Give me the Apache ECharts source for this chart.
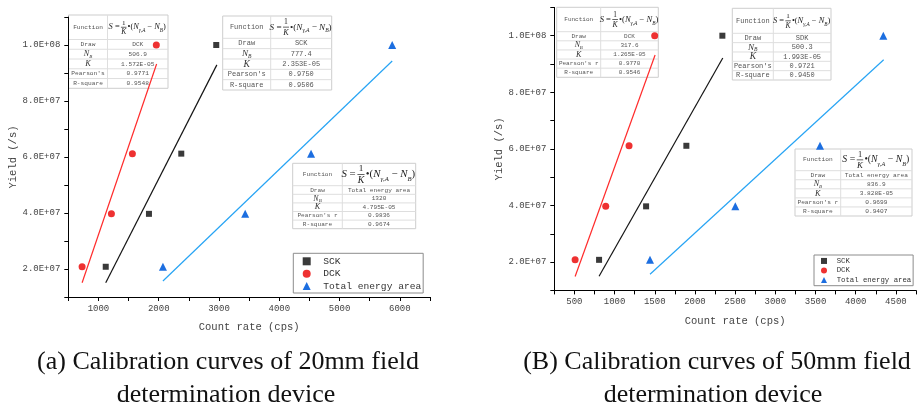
<!DOCTYPE html>
<html><head><meta charset="utf-8">
<script src="https://cdn.jsdelivr.net/npm/echarts@6/dist/echarts.min.js"></script>
<style>html,body{margin:0;padding:0;background:#fff}#c{width:919px;height:408px}</style>
</head><body><div id="c"></div>
<script>
// ---------------- DATA ----------------
const seriesNames = ['SCK', 'DCK', 'Total energy area'];
// Panel (a): 20mm field determination device
const yieldA = [2.08e7, 3.97e7, 6.12e7, 1.0e8];
const sckA = [1121, 1838, 2374, 2954];
const dckA = [729, 1215, 1563, 1960];
const totA = [2070, 3434, 4527, 5873];
const fitSckA = [[1121, 1.51e7], [2964, 9.29e7]];
const fitDckA = [[729, 1.51e7], [1965, 9.32e7]];
const fitTotA = [[2070, 1.57e7], [5873, 9.43e7]];
// Panel (b): 50mm field determination device
const yieldB = [2.08e7, 3.97e7, 6.11e7, 1.0e8];
const sckB = [807, 1392, 1893, 2341];
const dckB = [509, 890, 1180, 1499];
const totB = [1441, 2502, 3556, 4343];
const fitSckB = [[807, 1.5e7], [2346, 9.21e7]];
const fitDckB = [[509, 1.49e7], [1504, 9.32e7]];
const fitTotB = [[1441, 1.57e7], [4348, 9.15e7]];
// Tick labels
const yTickVals = [2e7, 4e7, 6e7, 8e7, 1e8];
const yTickLabels = ['2.0E+07', '4.0E+07', '6.0E+07', '8.0E+07', '1.0E+08'];
const xTickValsA = [1000, 2000, 3000, 4000, 5000, 6000];
const xTickValsB = [500, 1000, 1500, 2000, 2500, 3000, 3500, 4000, 4500];
// Fit tables: [Draw, N_B, K, Pearson's r, R-square]
const tabA_DCK = ['DCK', '506.9', '1.572E-05', '0.9771', '0.9548'];
const tabA_SCK = ['SCK', '777.4', '2.353E-05', '0.9750', '0.9506'];
const tabA_TOT = ['Total energy area', '1320', '4.795E-05', '0.9836', '0.9674'];
const tabB_DCK = ['DCK', '317.6', '1.265E-05', '0.9770', '0.9546'];
const tabB_SCK = ['SDK', '500.3', '1.993E-05', '0.9721', '0.9450'];
const tabB_TOT = ['Total energy area', '836.9', '3.828E-05', '0.9699', '0.9407'];
const pearsonA = ["Pearson's", "Pearson's", "Pearson's r"];
const pearsonB = ["Pearson's r", "Pearson's", "Pearson's r"];
const captionA = ['(a) Calibration curves of 20mm field', 'determination device'];
const captionB = ['(B) Calibration curves of 50mm field', 'determination device'];
const xName = 'Count rate (cps)';
const yName = 'Yield (/s)';

// ---------------- STYLE ----------------
const MONO = '"Liberation Mono", monospace';
const SERIF = '"Liberation Serif", serif';
const C_SCK = '#3a3a3a', C_DCK = '#ee3131', C_TOT = '#1c6ee0';
const L_SCK = '#151515', L_DCK = '#ff2b2b', L_TOT = '#27a4f4';

function pairs(xs, ys) { return xs.map((x, i) => [x, ys[i]]); }
function near(v, arr) { return arr.findIndex(a => Math.abs(a - v) < 1e-6 * Math.max(1, Math.abs(a))); }

function xAxisCfg(grid, min, max, step, ticks) {
  return {
    type: 'value', gridIndex: grid, min: min, max: max, interval: step,
    name: xName, nameLocation: 'middle', nameGap: 25,
    nameTextStyle: { fontFamily: MONO, fontSize: 10.5, color: '#444' },
    axisLine: { show: true, lineStyle: { color: '#000', width: 1 } },
    axisTick: { show: true, inside: false, length: 4, lineStyle: { color: '#000' } },
    axisLabel: { fontFamily: MONO, fontSize: 9, color: '#444', margin: 7,
      formatter: v => near(v, ticks) >= 0 ? String(v) : '' },
    splitLine: { show: false }
  };
}
function yAxisCfg(grid, gap) {
  return {
    type: 'value', gridIndex: grid, min: 1e7, max: 1.1e8, interval: 1e7,
    name: yName, nameLocation: 'middle', nameGap: gap,
    nameTextStyle: { fontFamily: MONO, fontSize: 10.5, color: '#444' },
    axisLine: { show: true, lineStyle: { color: '#000', width: 1 } },
    axisTick: { show: true, inside: false, length: 4, lineStyle: { color: '#000' } },
    axisLabel: { fontFamily: MONO, fontSize: 9, color: '#444', margin: 8,
      formatter: v => { const i = near(v, yTickVals); return i >= 0 ? yTickLabels[i] : ''; } },
    splitLine: { show: false }
  };
}
function scatter(name, data, idx, symbol, size, color) {
  return { type: 'scatter', name: name, xAxisIndex: idx, yAxisIndex: idx, data: data,
    symbol: symbol, symbolSize: size, itemStyle: { color: color, opacity: 1 }, z: 4 };
}
function fitLine(name, data, idx, color) {
  return { type: 'line', name: name, xAxisIndex: idx, yAxisIndex: idx, data: data,
    showSymbol: false, symbol: 'none', silent: true,
    lineStyle: { color: color, width: 1.2 }, z: 3 };
}

// ---------- Table (text annotation) builder ----------
function buildTable(L, vals, pearson) {
  const rowH = (L.h - L.hh) / 5;
  const ch = [];
  ch.push({ type: 'rect', shape: { x: 0, y: 0, width: L.w, height: L.h },
    style: { fill: '#ffffff', stroke: '#cdcdcd', lineWidth: 1 } });
  ch.push({ type: 'line', shape: { x1: L.sx, y1: 0, x2: L.sx, y2: L.h },
    style: { stroke: '#dedede', lineWidth: 1 } });
  for (let i = 0; i < 5; i++) {
    const yy = L.hh + i * rowH;
    ch.push({ type: 'line', shape: { x1: 0, y1: yy, x2: L.w, y2: yy },
      style: { stroke: '#dedede', lineWidth: 1 } });
  }
  const lc = L.sx / 2, rc = L.sx + (L.w - L.sx) / 2;
  const txt = (x, y, text, extra) => ({ type: 'text', x: x, y: y,
    style: Object.assign({ text: text, fontSize: L.fs, fontFamily: MONO, fill: '#555',
      align: 'center', verticalAlign: 'middle', textAlign: 'center', textVerticalAlign: 'middle' }, extra || {}) });
  ch.push(txt(lc, L.hh / 2, 'Function'));
  // formula S = 1/K •(N_{γ,A} − N_B)
  const f = L.ff, my = L.hh / 2;
  const W = 6.94 * f, x0 = rc - W / 2;
  ch.push({ type: 'text', x: x0, y: my, style: { text: '{i|S} =', fill: '#222',
    align: 'left', verticalAlign: 'middle', textAlign: 'left', textVerticalAlign: 'middle',
    rich: { i: { fontSize: f, fontFamily: SERIF, fontStyle: 'italic', fill: '#222' } },
    fontSize: f, fontFamily: SERIF } });
  const fc = x0 + 1.8 * f;
  ch.push({ type: 'text', x: fc, y: my - 0.52 * f, style: { text: '1', fontSize: 0.85 * f, fontFamily: SERIF,
    fill: '#222', align: 'center', verticalAlign: 'middle', textAlign: 'center', textVerticalAlign: 'middle' } });
  ch.push({ type: 'line', shape: { x1: fc - 0.33 * f, y1: my, x2: fc + 0.33 * f, y2: my },
    style: { stroke: '#222', lineWidth: 0.7 } });
  ch.push({ type: 'text', x: fc, y: my + 0.58 * f, style: { text: 'K', fontSize: 0.9 * f, fontFamily: SERIF,
    fontStyle: 'italic', fill: '#222', align: 'center', verticalAlign: 'middle', textAlign: 'center', textVerticalAlign: 'middle' } });
  ch.push({ type: 'text', x: x0 + 2.25 * f, y: my, style: {
    text: '{a|•(}{i|N}{s|γ,A}{a| − }{i|N}{s|B}{a|)}', fill: '#222',
    align: 'left', verticalAlign: 'middle', textAlign: 'left', textVerticalAlign: 'middle',
    fontSize: f, fontFamily: SERIF,
    rich: {
      a: { fontSize: f, fontFamily: SERIF, fill: '#222', lineHeight: 1.5 * f },
      i: { fontSize: f, fontFamily: SERIF, fontStyle: 'italic', fill: '#222', lineHeight: 1.5 * f },
      s: { fontSize: 0.62 * f, fontFamily: SERIF, fontStyle: 'italic', fill: '#222', verticalAlign: 'bottom' }
    } } });
  // rows
  const ry = i => L.hh + rowH * (i + 0.5);
  ch.push(txt(lc, ry(0), 'Draw'));
  ch.push(txt(lc, ry(1), '{i|N}{s|B}', { rich: {
    i: { fontSize: 1.3 * L.fs, fontFamily: SERIF, fontStyle: 'italic', fill: '#333', lineHeight: 1.5 * L.fs },
    s: { fontSize: 0.8 * L.fs, fontFamily: SERIF, fontStyle: 'italic', fill: '#333', verticalAlign: 'bottom' } } }));
  ch.push(txt(lc, ry(2), 'K', { fontFamily: SERIF, fontStyle: 'italic', fontSize: 1.35 * L.fs, fill: '#333' }));
  ch.push(txt(lc, ry(3), pearson));
  ch.push(txt(lc, ry(4), 'R-square'));
  for (let i = 0; i < 5; i++) ch.push(txt(rc, ry(i), vals[i]));
  return { type: 'group', x: L.x, y: L.y, z: 1, children: ch };
}

// Layout of annotation tables (pixels)
const layA = [
  { x: 68.5, y: 15, w: 99.5, h: 73.3, sx: 39, hh: 24.5, fs: 6.2, ff: 8.4 },
  { x: 222.7, y: 16, w: 109, h: 74, sx: 48, hh: 22.3, fs: 7.0, ff: 9.1 },
  { x: 292.7, y: 163.3, w: 123, h: 65.4, sx: 49.6, hh: 22.4, fs: 6.1, ff: 10.8 }
];
const layB = [
  { x: 556.7, y: 7.3, w: 101.6, h: 70, sx: 44, hh: 24.4, fs: 6.0, ff: 8.6 },
  { x: 732.3, y: 8.3, w: 98.7, h: 71.7, sx: 41, hh: 25, fs: 7.0, ff: 8.4 },
  { x: 795, y: 149, w: 117, h: 67, sx: 45.7, hh: 21.7, fs: 6.2, ff: 9.8 }
];

const graphics = [
  buildTable(layA[0], tabA_DCK, pearsonA[0]),
  buildTable(layA[1], tabA_SCK, pearsonA[1]),
  buildTable(layA[2], tabA_TOT, pearsonA[2]),
  buildTable(layB[0], tabB_DCK, pearsonB[0]),
  buildTable(layB[1], tabB_SCK, pearsonB[1]),
  buildTable(layB[2], tabB_TOT, pearsonB[2])
];
const capStyle = (text) => ({ text: text, fontSize: 26, fontFamily: SERIF, fill: '#111',
  align: 'center', verticalAlign: 'middle', textAlign: 'center', textVerticalAlign: 'middle' });
graphics.push({ type: 'text', x: 228, y: 362, style: capStyle(captionA[0]) });
graphics.push({ type: 'text', x: 226, y: 395, style: capStyle(captionA[1]) });
graphics.push({ type: 'text', x: 717, y: 362, style: capStyle(captionB[0]) });
graphics.push({ type: 'text', x: 713, y: 395, style: capStyle(captionB[1]) });

const option = {
  animation: false,
  backgroundColor: '#fff',
  grid: [
    { left: 68.3, top: 17, width: 361.7, height: 280 },
    { left: 554.3, top: 7.4, width: 362.4, height: 283 }
  ],
  xAxis: [ xAxisCfg(0, 500, 6500, 500, xTickValsA), xAxisCfg(1, 250, 4750, 250, xTickValsB) ],
  yAxis: [ yAxisCfg(0, 48), yAxisCfg(1, 47) ],
  legend: [
    { data: seriesNames, orient: 'vertical', left: 293.3, top: 253.3,
      padding: [3, 2, 2, 9.4], itemGap: 2.35, itemWidth: 8, itemHeight: 8,
      borderColor: '#8c8c8c', borderWidth: 1, backgroundColor: '#fff',
      textStyle: { fontFamily: MONO, fontSize: 9.6, color: '#333', lineHeight: 10, padding: [0, 0, 0, 7.6] },
      selectedMode: false },
    { data: seriesNames, orient: 'vertical', left: 814, top: 255,
      padding: [2.2, 2, 2, 7], itemGap: 2, itemWidth: 6, itemHeight: 6,
      borderColor: '#8c8c8c', borderWidth: 1, backgroundColor: '#fff',
      textStyle: { fontFamily: MONO, fontSize: 7.3, color: '#333', lineHeight: 7.5, padding: [0, 0, 0, 4.7] },
      selectedMode: false }
  ],
  graphic: graphics,
  series: [
    scatter(seriesNames[0], pairs(sckA, yieldA), 0, 'rect', 6, C_SCK),
    scatter(seriesNames[1], pairs(dckA, yieldA), 0, 'circle', 7, C_DCK),
    scatter(seriesNames[2], pairs(totA, yieldA), 0, 'triangle', 8, C_TOT),
    fitLine('SCK fit', fitSckA, 0, L_SCK),
    fitLine('DCK fit', fitDckA, 0, L_DCK),
    fitLine('Total fit', fitTotA, 0, L_TOT),
    scatter(seriesNames[0], pairs(sckB, yieldB), 1, 'rect', 6, C_SCK),
    scatter(seriesNames[1], pairs(dckB, yieldB), 1, 'circle', 7, C_DCK),
    scatter(seriesNames[2], pairs(totB, yieldB), 1, 'triangle', 8, C_TOT),
    fitLine('SCK fit', fitSckB, 1, L_SCK),
    fitLine('DCK fit', fitDckB, 1, L_DCK),
    fitLine('Total fit', fitTotB, 1, L_TOT)
  ]
};
const chart = echarts.init(document.getElementById('c'), null, { renderer: 'canvas' });
chart.setOption(option);
</script></body></html>
